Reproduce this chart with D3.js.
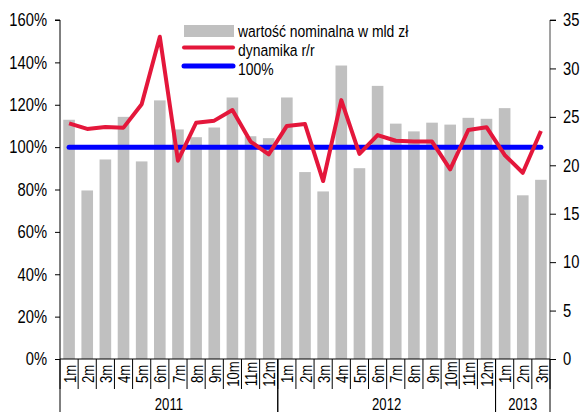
<!DOCTYPE html>
<html>
<head>
    <meta charset="utf-8">
    <title>wartosc nominalna</title>
    <script src="https://cdnjs.cloudflare.com/ajax/libs/d3/7.8.5/d3.min.js"></script>
    <style>
        body{ margin:0; background:#fff; }
        text{ font-family:"Liberation Sans",Arial,sans-serif; fill:#000; }
    </style>
</head>
<body>
<script>
    // data
    const months = ['1m','2m','3m','4m','5m','6m','7m','8m','9m','10m','11m','12m',
        '1m','2m','3m','4m','5m','6m','7m','8m','9m','10m','11m','12m',
        '1m','2m','3m'];
    const years = [{label:'2011', n:12}, {label:'2012', n:12}, {label:'2013', n:3}];
    // wartość nominalna w mld zł (right axis)
    const nominal = [24.7,17.4,20.6,25.0,20.4,26.7,23.7,22.9,23.9,27.0,23.0,22.8,
        27.0,19.3,17.3,30.3,19.7,28.2,24.3,23.5,24.4,24.2,24.9,24.8,
        25.9,16.9,18.5];
    // dynamika r/r in % (left axis)
    const dynamics = [111.2,108.6,109.5,109.2,120.2,152.1,93.6,111.5,112.5,117.5,102.6,96.6,
        110.0,110.9,84.0,122.2,96.8,105.7,103.0,102.6,102.6,89.5,108.1,109.4,
        96.3,87.9,107.6];
    const baseline = months.map(() => 100);
    const leftTicks = [0,20,40,60,80,100,120,140,160];
    const rightTicks = [0,5,10,15,20,25,30,35];
    const legendLabels = ['wartość nominalna w mld zł', 'dynamika r/r', '100%'];

    const W = 580, H = 412;
    const x0 = 60, x1 = 550, yTop = 20, yBot = 359;
    const SX = 0.82; // the original uses a narrow face

    const svg = d3.select('body').append('svg')
        .attr('width', W).attr('height', H);

    const x = d3.scaleBand().domain(d3.range(months.length))
        .range([x0, x1]).paddingInner(0.36).paddingOuter(0.18);
    const step = x.step();
    const cx = i => x(i) + x.bandwidth() / 2;
    const yL = d3.scaleLinear().domain([0, 160]).range([yBot, yTop]);
    const yR = d3.scaleLinear().domain([0, 35]).range([yBot, yTop]);

    // squeeze axis texts horizontally, keeping their anchor point
    function narrow(sel) {
        sel.each(function() {
            const t = d3.select(this);
            const ox = +t.attr('x') || 0;
            t.attr('x', ox / SX).attr('transform', `scale(${SX},1)`);
        });
    }

    //Bars
    svg.append('g').selectAll('rect').data(nominal).enter()
        .append('rect')
        .attr('x', (d, i) => x(i))
        .attr('y', d => yR(d))
        .attr('width', x.bandwidth())
        .attr('height', d => yBot - yR(d))
        .attr('fill', '#c0c0c0');

    //Lines
    const lineGen = d3.line().x((d, i) => cx(i)).y(d => yL(d));
    svg.append('path').datum(baseline)
        .attr('d', lineGen)
        .attr('fill', 'none')
        .attr('stroke', '#0000ff')
        .attr('stroke-width', 5)
        .attr('stroke-linecap', 'round');
    svg.append('path').datum(dynamics)
        .attr('d', lineGen)
        .attr('fill', 'none')
        .attr('stroke', '#e4173b')
        .attr('stroke-width', 4)
        .attr('stroke-linejoin', 'round');

    //Left axis
    const axL = svg.append('g').attr('transform', `translate(${x0},0)`)
        .call(d3.axisLeft(yL).tickValues(leftTicks).tickSize(5).tickPadding(8).tickFormat(d => d + '%'));
    axL.select('.domain').attr('d', `M-5,${yTop}H0V${yBot}`);
    axL.selectAll('text').attr('font-size', 18).attr('font-family', null).call(narrow);

    //Right axis
    const axR = svg.append('g').attr('transform', `translate(${x1},0)`)
        .call(d3.axisRight(yR).tickValues(rightTicks).tickSize(6).tickPadding(7));
    axR.select('.domain').attr('d', `M6,${yTop}H0V${yBot}`).attr('stroke', '#444');
    axR.selectAll('text').attr('font-size', 18).attr('font-family', null).call(narrow);

    //Category axis
    const gx = svg.append('g');
    gx.append('line').attr('x1', x0).attr('x2', x1).attr('y1', yBot).attr('y2', yBot).attr('stroke', '#000');
    gx.selectAll('.sep').data(d3.range(months.length + 1)).enter()
        .append('line')
        .attr('x1', i => x0 + i * step).attr('x2', i => x0 + i * step)
        .attr('y1', yBot).attr('y2', yBot + 30)
        .attr('stroke', '#000');
    gx.selectAll('.mlab').data(months).enter()
        .append('text')
        .attr('transform', (d, i) => `translate(${cx(i) + 1},${yBot + 15}) rotate(-90) scale(${SX},1)`)
        .attr('text-anchor', 'middle')
        .attr('dy', '0.35em')
        .attr('font-size', 16)
        .text(d => d);

    let start = 0;
    years.forEach(yr => {
        const a = x0 + start * step, b = x0 + (start + yr.n) * step;
        gx.append('line').attr('x1', a).attr('x2', a).attr('y1', yBot).attr('y2', H).attr('stroke', '#000');
        gx.append('line').attr('x1', b).attr('x2', b).attr('y1', yBot).attr('y2', H).attr('stroke', '#000');
        gx.append('text').attr('transform', `translate(${(a + b) / 2},410) scale(${SX},1)`)
            .attr('text-anchor', 'middle').attr('font-size', 16).text(yr.label);
        start += yr.n;
    });

    //Legend
    const lg = svg.append('g').attr('transform', 'translate(184,0)');
    lg.append('rect').attr('x', 0).attr('y', 25).attr('width', 50).attr('height', 12).attr('fill', '#c0c0c0');
    lg.append('line').attr('x1', 0).attr('x2', 49).attr('y1', 47.5).attr('y2', 47.5)
        .attr('stroke', '#e4173b').attr('stroke-width', 4).attr('stroke-linecap', 'round');
    lg.append('line').attr('x1', 0).attr('x2', 49).attr('y1', 66).attr('y2', 66)
        .attr('stroke', '#0000ff').attr('stroke-width', 5).attr('stroke-linecap', 'round');
    lg.selectAll('.ltxt').data(legendLabels).enter()
        .append('text')
        .attr('transform', (d, i) => `translate(54,${37 + i * 19}) scale(${SX},1)`)
        .attr('font-size', 17)
        .text(d => d);
</script>
</body>
</html>
